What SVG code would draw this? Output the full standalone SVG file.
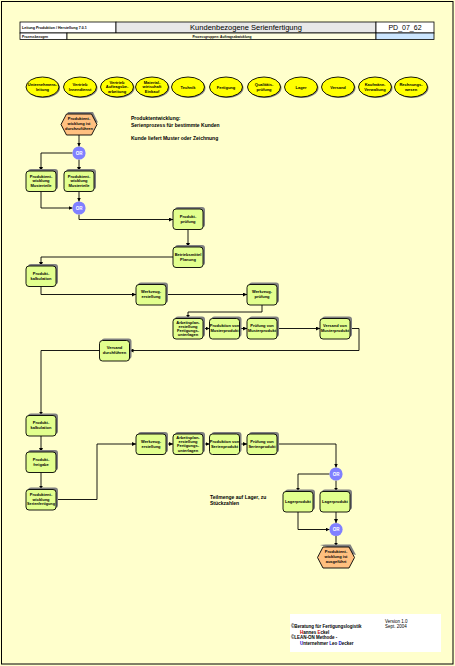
<svg xmlns="http://www.w3.org/2000/svg" width="455" height="666" viewBox="0 0 455 666">
<style>
.bg{fill:#FFFFCC}
.box{fill:#E2FF8E;stroke:#000;stroke-width:0.9}
.sh{fill:#808080}
.hex{fill:#FFC080;stroke:#000;stroke-width:0.9}
.ell{fill:#FFFF00;stroke:#000;stroke-width:0.9}
.or{fill:#8080FF}
.t{font-family:"Liberation Sans",Arial,sans-serif;font-weight:bold;font-size:4px;text-anchor:middle;fill:#000}
.ot{font-family:"Liberation Sans",Arial,sans-serif;font-weight:bold;font-size:4.5px;text-anchor:middle;fill:#fff}
.c{fill:none;stroke:#000;stroke-width:0.9}
.txt{font-family:"Liberation Sans",Arial,sans-serif;font-weight:bold;font-size:5px;fill:#000}
.hd{font-family:"Liberation Sans",Arial,sans-serif;fill:#000}
</style>
<defs>
<marker id="a" markerUnits="userSpaceOnUse" markerWidth="4" markerHeight="4" viewBox="0 0 4 4" refX="4" refY="2" orient="auto">
<path d="M0,0 L4,2 L0,4 z" fill="#000"/>
</marker>
<g id="bx"><rect class="sh" x="2" y="-2" width="30" height="20.5" rx="3"/><rect class="box" x="0" y="0" width="30" height="20.5" rx="3"/></g>
</defs>
<rect class="bg" x="0" y="0" width="455" height="666"/>
<rect x="1.5" y="1.5" width="451.5" height="662.5" fill="none" stroke="#000" stroke-width="1"/>

<g id="header">
<rect x="20" y="22" width="96" height="11" fill="#FFFFFF" stroke="#000" stroke-width="0.8"/>
<rect x="116" y="22" width="260" height="11" fill="#E8E8E8" stroke="#000" stroke-width="0.8"/>
<rect x="376" y="22" width="58" height="11" fill="#FFFFFF" stroke="#000" stroke-width="0.8"/>
<rect x="20" y="33" width="47" height="6.5" fill="#FFFFFF" stroke="#000" stroke-width="0.8"/>
<rect x="67" y="33" width="309" height="6.5" fill="#FFFFE0" stroke="#000" stroke-width="0.8"/>
<rect x="376" y="33" width="58" height="6.5" fill="#CCE6FF" stroke="#000" stroke-width="0.8"/>
<text class="hd" x="22" y="29.3" font-size="3.6" font-weight="bold">Leitung Produktion / Herstellung  7.0.1</text>
<text class="hd" x="246" y="30.2" font-size="7.5" text-anchor="middle">Kundenbezogene Serienfertigung</text>
<text class="hd" x="405" y="30.2" font-size="7" text-anchor="middle">PD_07_62</text>
<text class="hd" x="22" y="37.6" font-size="3.3" font-weight="bold">Prozessbezogen</text>
<text class="hd" x="222" y="37.6" font-size="3.3" font-weight="bold" text-anchor="middle">Prozessgruppen: Auftragsabwicklung</text>
</g>

<g id="org-units">
<g id="e1"><ellipse class="sh" cx="43.5" cy="88" rx="16.5" ry="10"/><ellipse class="ell" cx="42.5" cy="87" rx="16.5" ry="10"/><text class="t" x="42.5" y="86">Unternehmens-</text><text class="t" x="42.5" y="91">leitung</text></g>
<g id="e2"><ellipse class="sh" cx="81" cy="88" rx="16.5" ry="10"/><ellipse class="ell" cx="80" cy="87" rx="16.5" ry="10"/><text class="t" x="80" y="86">Vertrieb</text><text class="t" x="80" y="91">Innendienst</text></g>
<g id="e3"><ellipse class="sh" cx="118" cy="88" rx="16.5" ry="10"/><ellipse class="ell" cx="117" cy="87" rx="16.5" ry="10"/><text class="t" x="117" y="83.5">Vertrieb</text><text class="t" x="117" y="88">Auftragsbe-</text><text class="t" x="117" y="92.5">arbeitung</text></g>
<g id="e4"><ellipse class="sh" cx="153" cy="88" rx="16.5" ry="10"/><ellipse class="ell" cx="152" cy="87" rx="16.5" ry="10"/><text class="t" x="152" y="83.5">Material-</text><text class="t" x="152" y="88">wirtschaft</text><text class="t" x="152" y="92.5">Einkauf</text></g>
<g id="e5"><ellipse class="sh" cx="189" cy="88" rx="16.5" ry="10"/><ellipse class="ell" cx="188" cy="87" rx="16.5" ry="10"/><text class="t" x="188" y="88.5">Technik</text></g>
<g id="e6"><ellipse class="sh" cx="227" cy="88" rx="16.5" ry="10"/><ellipse class="ell" cx="226" cy="87" rx="16.5" ry="10"/><text class="t" x="226" y="88.5">Fertigung</text></g>
<g id="e7"><ellipse class="sh" cx="265" cy="88" rx="16.5" ry="10"/><ellipse class="ell" cx="264" cy="87" rx="16.5" ry="10"/><text class="t" x="264" y="86">Qualitäts-</text><text class="t" x="264" y="91">prüfung</text></g>
<g id="e8"><ellipse class="sh" cx="302" cy="88" rx="16.5" ry="10"/><ellipse class="ell" cx="301" cy="87" rx="16.5" ry="10"/><text class="t" x="301" y="88.5">Lager</text></g>
<g id="e9"><ellipse class="sh" cx="339" cy="88" rx="16.5" ry="10"/><ellipse class="ell" cx="338" cy="87" rx="16.5" ry="10"/><text class="t" x="338" y="88.5">Versand</text></g>
<g id="e10"><ellipse class="sh" cx="376" cy="88" rx="16.5" ry="10"/><ellipse class="ell" cx="375" cy="87" rx="16.5" ry="10"/><text class="t" x="375" y="86">Kaufmänn.</text><text class="t" x="375" y="91">Verwaltung</text></g>
<g id="e11"><ellipse class="sh" cx="412" cy="88" rx="16.5" ry="10"/><ellipse class="ell" cx="411" cy="87" rx="16.5" ry="10"/><text class="t" x="411" y="86">Rechnungs-</text><text class="t" x="411" y="91">wesen</text></g>
</g>

<g id="notes">
<text class="txt" x="131" y="120">Produktentwicklung:</text>
<text class="txt" x="131" y="126.5">Serienprozess für bestimmte Kunden</text>
<text class="txt" x="131" y="140">Kunde liefert Muster oder Zeichnung</text>
<text class="txt" x="210" y="498.5">Teilmenge auf Lager, zu</text>
<text class="txt" x="210" y="505">Stückzahlen</text>
</g>

<g id="connectors">
<polyline class="c" points="79,135 79,146.5" marker-end="url(#a)"/>
<polyline class="c" points="72.5,153 41,153 41,171" marker-end="url(#a)"/>
<polyline class="c" points="79,159.5 79,171" marker-end="url(#a)"/>
<polyline class="c" points="41,191.5 41,208 72.5,208" marker-end="url(#a)"/>
<polyline class="c" points="79,191.5 79,201.5" marker-end="url(#a)"/>
<polyline class="c" points="79,214.5 79,219.5 173,219.5" marker-end="url(#a)"/>
<polyline class="c" points="188,229.5 188,247" marker-end="url(#a)"/>
<polyline class="c" points="173,257 41,257 41,266" marker-end="url(#a)"/>
<polyline class="c" points="41,286.5 41,294.5 136,294.5" marker-end="url(#a)"/>
<polyline class="c" points="166,294.5 247,294.5" marker-end="url(#a)"/>
<polyline class="c" points="262,305 262,312 188,312 188,318.5" marker-end="url(#a)"/>
<polyline class="c" points="203,328.5 209.5,328.5" marker-end="url(#a)"/>
<polyline class="c" points="239.5,328.5 247,328.5" marker-end="url(#a)"/>
<polyline class="c" points="277,328.5 320,328.5" marker-end="url(#a)"/>
<polyline class="c" points="350,328.5 359,328.5 359,350.5 129.5,350.5" marker-end="url(#a)"/>
<polyline class="c" points="99.5,350.5 41,350.5 41,415.5" marker-end="url(#a)"/>
<polyline class="c" points="41,436 41,452" marker-end="url(#a)"/>
<polyline class="c" points="41,472.5 41,489.5" marker-end="url(#a)"/>
<polyline class="c" points="56,499.5 97,499.5 97,444 136,444" marker-end="url(#a)"/>
<polyline class="c" points="166,444 173,444" marker-end="url(#a)"/>
<polyline class="c" points="203,444 209.5,444" marker-end="url(#a)"/>
<polyline class="c" points="239.5,444 247,444" marker-end="url(#a)"/>
<polyline class="c" points="277,444 336,444 336,467.5" marker-end="url(#a)"/>
<polyline class="c" points="329.5,474 298,474 298,491.5" marker-end="url(#a)"/>
<polyline class="c" points="336,480.5 336,491.5" marker-end="url(#a)"/>
<polyline class="c" points="298,512 298,529.5 329.5,529.5" marker-end="url(#a)"/>
<polyline class="c" points="336,512 336,523" marker-end="url(#a)"/>
<polyline class="c" points="336,536 336,546.5" marker-end="url(#a)"/>
</g>

<g id="start">
<polygon class="sh" points="63,122.5 68,112 93,112 98,122.5"/>
<polygon class="hex" points="61,124.5 66.5,114 91.5,114 97,124.5 91.5,135 66.5,135"/>
<text class="t" x="79" y="119.5">Produktent-</text><text class="t" x="79" y="124.5">wicklung ist</text><text class="t" x="79" y="129.5">durchzuführen</text>
</g>
<g id="or1"><circle class="or" cx="79" cy="153" r="6.6"/><text class="ot" x="79" y="154.6">OR</text></g>
<g id="n1" transform="translate(26,171)"><use href="#bx"/><text class="t" x="15" y="6.5">Produktent-</text><text class="t" x="15" y="11">wicklung</text><text class="t" x="15" y="15.5">Musterteile</text></g>
<g id="n2" transform="translate(64,171)"><use href="#bx"/><text class="t" x="15" y="6.5">Produktent-</text><text class="t" x="15" y="11">wicklung</text><text class="t" x="15" y="15.5">Musterteile</text></g>
<g id="or2"><circle class="or" cx="79" cy="208" r="6.6"/><text class="ot" x="79" y="209.6">OR</text></g>
<g id="n3" transform="translate(173,209)"><use href="#bx"/><text class="t" x="15" y="8.5">Produkt-</text><text class="t" x="15" y="13.5">prüfung</text></g>
<g id="n4" transform="translate(173,247)"><use href="#bx"/><text class="t" x="15" y="8.5">Betriebsmittel</text><text class="t" x="15" y="13.5">Planung</text></g>
<g id="n5" transform="translate(26,266)"><use href="#bx"/><text class="t" x="15" y="8.5">Produkt-</text><text class="t" x="15" y="13.5">kalkulation</text></g>
<g id="n6" transform="translate(136,284.5)"><use href="#bx"/><text class="t" x="15" y="8.5">Werkzeug-</text><text class="t" x="15" y="13.5">erstellung</text></g>
<g id="n7" transform="translate(247,284.5)"><use href="#bx"/><text class="t" x="15" y="8.5">Werkzeug-</text><text class="t" x="15" y="13.5">prüfung</text></g>
<g id="n8" transform="translate(173,318.5)"><use href="#bx"/><text class="t" x="15" y="5">Arbeitsplan-</text><text class="t" x="15" y="9.2">erstellung</text><text class="t" x="15" y="13.4">Fertigungs-</text><text class="t" x="15" y="17.6">unterlagen</text></g>
<g id="n9" transform="translate(209.5,318.5)"><use href="#bx"/><text class="t" x="15" y="8.5">Produktion von</text><text class="t" x="15" y="13.5">Musterprodukt</text></g>
<g id="n10" transform="translate(247,318.5)"><use href="#bx"/><text class="t" x="15" y="8.5">Prüfung von</text><text class="t" x="15" y="13.5">Musterprodukt</text></g>
<g id="n11" transform="translate(320,318.5)"><use href="#bx"/><text class="t" x="15" y="8.5">Versand von</text><text class="t" x="15" y="13.5">Musterprodukt</text></g>
<g id="n12" transform="translate(99.5,340.5)"><use href="#bx"/><text class="t" x="15" y="8.5">Versand</text><text class="t" x="15" y="13.5">durchführen</text></g>
<g id="n13" transform="translate(26,415.5)"><use href="#bx"/><text class="t" x="15" y="8.5">Produkt-</text><text class="t" x="15" y="13.5">kalkulation</text></g>
<g id="n14" transform="translate(26,452)"><use href="#bx"/><text class="t" x="15" y="8.5">Produkt-</text><text class="t" x="15" y="13.5">freigabe</text></g>
<g id="n15" transform="translate(26,489.5)"><use href="#bx"/><text class="t" x="15" y="6.5">Produktent-</text><text class="t" x="15" y="11">wicklung</text><text class="t" x="15" y="15.5" textLength="28" lengthAdjust="spacingAndGlyphs">Serienfertigung</text></g>
<g id="n16" transform="translate(136,434)"><use href="#bx"/><text class="t" x="15" y="8.5">Werkzeug-</text><text class="t" x="15" y="13.5">erstellung</text></g>
<g id="n17" transform="translate(173,434)"><use href="#bx"/><text class="t" x="15" y="5">Arbeitsplan-</text><text class="t" x="15" y="9.2">erstellung</text><text class="t" x="15" y="13.4">Fertigungs-</text><text class="t" x="15" y="17.6">unterlagen</text></g>
<g id="n18" transform="translate(209.5,434)"><use href="#bx"/><text class="t" x="15" y="8.5">Produktion von</text><text class="t" x="15" y="13.5">Serienprodukt</text></g>
<g id="n19" transform="translate(247,434)"><use href="#bx"/><text class="t" x="15" y="8.5">Prüfung von</text><text class="t" x="15" y="13.5">Serienprodukt</text></g>
<g id="or3"><circle class="or" cx="336" cy="474" r="6.6"/><text class="ot" x="336" y="475.6">OR</text></g>
<g id="n20" transform="translate(283,491.5)"><use href="#bx"/><text class="t" x="15" y="11.5">Lagerprodukt</text></g>
<g id="n21" transform="translate(320,491.5)"><use href="#bx"/><text class="t" x="15" y="11.5">Lagerprodukt</text></g>
<g id="or4"><circle class="or" cx="336" cy="529.5" r="6.6"/><text class="ot" x="336" y="531.1">OR</text></g>
<g id="end">
<polygon class="sh" points="320,545 325.5,544.5 350.5,544.5 356,555"/>
<polygon class="hex" points="317.5,557.5 323,547 349,547 354.5,557.5 349,568 323,568"/>
<text class="t" x="336" y="552.5">Produktent-</text><text class="t" x="336" y="557.5">wicklung ist</text><text class="t" x="336" y="562.5">ausgeführt</text>
</g>

<g id="footer">
<rect x="290" y="614" width="151" height="38" fill="#FFFFFF"/>
<text class="hd" x="385" y="622.5" font-size="4.5">Version 1.0</text>
<text class="hd" x="385" y="628" font-size="4.5">Sept. 2004</text>
<text class="hd" x="291" y="628" font-size="4.5" font-weight="bold">©Beratung für Fertigungslogistik</text>
<text class="hd" x="300" y="633.5" font-size="4.5" font-weight="bold"><tspan fill="#C00000">H</tspan>annes <tspan fill="#C00000">E</tspan>ckel</text>
<text class="hd" x="291" y="639" font-size="4.5" font-weight="bold">©LEAN-ON Methode -</text>
<text class="hd" x="300" y="644.5" font-size="4.5" font-weight="bold"><tspan fill="#0000CC">U</tspan>nternehmer <tspan fill="#0000CC">L</tspan>eo <tspan fill="#0000CC">D</tspan>ecker</text>
</g>
</svg>
